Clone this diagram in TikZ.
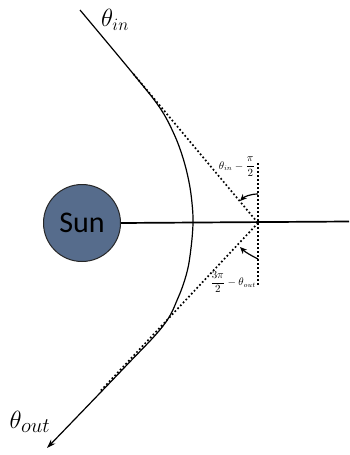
\documentclass[tikz,border=0pt]{standalone}
\usepackage{fontspec}
\usepackage{amsmath}
\newfontfamily\sunfont{Carlito}
\usetikzlibrary{arrows.meta,calc}
\definecolor{sunblue}{HTML}{566C8C}
\begin{document}
\begin{tikzpicture}[x=1pt,y=-1pt,
  traj/.style={line width=1.2pt,-{Stealth[length=9pt,width=6pt]}},
  dots/.style={line width=1.7pt,dash pattern=on 1.7pt off 2.3pt},
  axisline/.style={line width=1.7pt},
  sunnode/.style={circle,minimum size=77pt,inner sep=0pt,fill=sunblue,draw=black!85,line width=1pt,font=\sunfont\fontsize{30}{32}\selectfont},
  anglearrow/.style={line width=1.2pt,-{Stealth[length=7pt,width=6pt]}},
  biglabel/.style={inner sep=0pt},
  smalllabel/.style={inner sep=0pt,font=\fontsize{10.5}{12}\selectfont}]
\useasboundingbox (0,0) rectangle (349,455);
\coordinate (start) at (80,10);
\coordinate (tip) at (47,448);
\coordinate (c) at (258,223);
\coordinate (rim) at (349,221.5);
\coordinate (vt) at (258,163);
\coordinate (vb) at (258,285);
\coordinate (a1s) at (258,194);
\coordinate (a1e) at (240,201);
\coordinate (a2s) at (258,259);
\coordinate (a2e) at (240,247);
\node[sunnode] (sun) at (82,223) {Sun};
\draw[axisline] (sun.east) -- (rim);
\draw[traj] plot[smooth,tension=0.6] coordinates {(80,10) (135,76) (160,108) (174,134) (183,158) (189,182) (192,203) (193,223) (191,248) (187,272) (178,298) (163,326) (123,369) (47,448)};
\draw[dots] ($(start)!0.3!(c)$) -- (c);
\draw[dots] (c) -- ($(c)!0.75!(tip)$);
\draw[dots] (vt) -- (vb);
\draw[anglearrow] (a1s) .. controls (250,194) and (244,197) .. (a1e);
\draw[anglearrow] (a2s) .. controls (252,256) and (245,252) .. (a2e);
\node[biglabel,font=\fontsize{27}{30}\selectfont] (thin) at (115,20) {$\theta_{in}$};
\node[biglabel,font=\fontsize{30}{33}\selectfont] (thout) at (30,422) {$\theta_{out}$};
\node[smalllabel,anchor=east] (lin) at (255,167) {$\theta_{in}-\dfrac{\pi}{2}$};
\node[smalllabel,anchor=east] (lout) at (256,282) {$\dfrac{3\pi}{2}-\theta_{out}$};
\end{tikzpicture}
\end{document}
